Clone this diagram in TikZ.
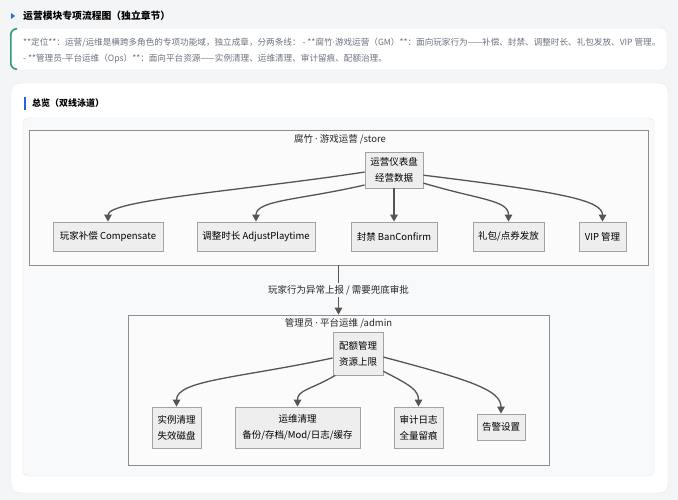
\documentclass[tikz,border=0pt]{standalone}
\usepackage{fontspec}
\setmainfont{Noto Sans CJK SC}
\newfontfamily\latinfont{Noto Sans}
\newcommand{\mdot}{{\latinfont ·}}
\usetikzlibrary{arrows.meta,positioning}
\definecolor{pagebg}{HTML}{F4F5F7}
\definecolor{cardline}{HTML}{E4E6EB}
\definecolor{panelbg}{HTML}{F8F9FB}
\definecolor{accent}{HTML}{2563EB}
\definecolor{tealline}{HTML}{2E9C80}
\definecolor{infotext}{HTML}{6B7280}
\definecolor{lanefill}{HTML}{FBFBFB}
\definecolor{laneline}{HTML}{8E8E8E}
\definecolor{nodefill}{HTML}{EEEEEE}
\definecolor{nodeline}{HTML}{A3A3A3}
\definecolor{arrowgray}{HTML}{555555}

\begin{document}
\begin{tikzpicture}[x=1pt,y=-1pt]
\tikzset{
  opnode/.style={draw=nodeline,fill=nodefill,line width=0.8pt,inner sep=0pt,align=center,font=\fontsize{9.5}{16}\selectfont},
  lanebox/.style={draw=laneline,fill=lanefill,line width=0.8pt,inner sep=0pt},
  lanelabel/.style={inner sep=0pt,font=\fontsize{9.5}{12}\selectfont,text=black!85},
  edgelabel/.style={fill=panelbg,inner sep=2pt,font=\fontsize{9.5}{12}\selectfont,text=black!85},
  flow/.style={-{Triangle[length=7pt,width=7.5pt]},draw=arrowgray,line width=1.3pt}
}
% page and cards
\useasboundingbox (0,0) rectangle (678,500);
\fill[pagebg] (0,0) rectangle (678,500);
\filldraw[fill=white,draw=cardline,rounded corners=6pt] (10,28) rectangle (667,70);
\draw[tealline,line width=1.6pt,rounded corners=6pt] (17,28.8) -- (10.8,28.8) -- (10.8,69.2) -- (17,69.2);
\filldraw[fill=white,draw=cardline,rounded corners=8pt] (11,83) rectangle (668,493);
\filldraw[fill=panelbg,draw=cardline,rounded corners=5pt] (23,118) rectangle (654,476);
\fill[accent] (11,13) -- (15,16) -- (11,19) -- cycle;
\fill[accent] (23.5,97) rectangle (25.5,110);
\node[anchor=west,inner sep=0pt,font=\fontsize{9.8}{12}\selectfont\bfseries] (n_title) at (23,16) {运营模块专项流程图（独立章节）};
\node[anchor=west,inner sep=0pt,font=\fontsize{8.6}{10}\selectfont,text=infotext] (n_info1) at (23,43) {**定位**：运营/运维是横跨多角色的专项功能域，独立成章，分两条线： - **腐竹\mdot 游戏运营（GM）**：面向玩家行为——补偿、封禁、调整时长、礼包发放、VIP 管理。};
\node[anchor=west,inner sep=0pt,font=\fontsize{8.6}{10}\selectfont,text=infotext] (n_info2) at (23,59) {- **管理员-平台运维（Ops）**：面向平台资源——实例清理、运维清理、审计留痕、配额治理。};
\node[anchor=west,inner sep=0pt,font=\fontsize{9}{12}\selectfont\bfseries] (n_overview) at (32,103) {总览（双线泳道）};
% lanes
\node[lanebox,minimum width=619pt,minimum height=135pt] (n_store) at (338.5,197.5) {};
\node[lanebox,minimum width=421pt,minimum height=150pt] (n_admin) at (338.5,390) {};
\node[lanelabel] (n_storelabel) at (340,139) {腐竹 \mdot\ 游戏运营 /store};
\node[lanelabel] (n_adminlabel) at (338.5,323.5) {管理员 \mdot\ 平台运维 /admin};
% store lane
\node[opnode,minimum width=58pt,minimum height=36pt] (n_dash) at (394,170) {运营仪表盘\\经营数据};
\node[opnode,minimum width=110pt,minimum height=29pt] (n_comp) at (108,236.5) {玩家补偿 Compensate};
\node[opnode,minimum width=118pt,minimum height=29pt] (n_adjust) at (256,236.5) {调整时长 AdjustPlaytime};
\node[opnode,minimum width=86pt,minimum height=29pt] (n_ban) at (394,236.5) {封禁 BanConfirm};
\node[opnode,minimum width=71pt,minimum height=29pt] (n_gift) at (508.5,236.5) {礼包/点券发放};
\node[opnode,minimum width=47pt,minimum height=29pt] (n_vip) at (602.5,236.5) {VIP 管理};
% admin lane
\node[opnode,minimum width=50pt,minimum height=43pt] (n_quota) at (358,353.5) {配额管理\\资源上限};
\node[opnode,minimum width=49pt,minimum height=41pt] (n_inst) at (176.5,427.5) {实例清理\\失效磁盘};
\node[opnode,minimum width=125pt,minimum height=41pt] (n_ops) at (297.5,427.5) {运维清理\\备份/存档/Mod/日志/缓存};
\node[opnode,minimum width=49pt,minimum height=41pt] (n_audit) at (418.5,427.5) {审计日志\\全量留痕};
\node[opnode,minimum width=48pt,minimum height=26pt] (n_alert) at (501,427) {告警设置};
% edges
\draw[flow] (n_dash.184) .. controls (240,191) and (108,200) .. (n_comp.north);
\draw[flow] (n_dash.207) .. controls (300,200) and (256,200) .. (n_adjust.north);
\draw[flow] (n_dash.south) -- (n_ban.north);
\draw[flow] (n_dash.336) .. controls (480,200) and (508.5,200) .. (n_gift.north);
\draw[flow] (n_dash.350) .. controls (560,192) and (602.5,200) .. (n_vip.north);
\draw[flow] (n_store.south) -- node[edgelabel] (n_report) {玩家行为异常上报 / 需要兜底审批} (n_admin.north);
\draw[flow] (n_quota.190) .. controls (240,378) and (176.5,380) .. (n_inst.north);
\draw[flow] (n_quota.224) .. controls (310,390) and (297.5,390) .. (n_ops.north);
\draw[flow] (n_quota.325) .. controls (410,385) and (418.5,390) .. (n_audit.north);
\draw[flow] (n_quota.352) .. controls (470,380) and (501,390) .. (n_alert.north);
\end{tikzpicture}
\end{document}
